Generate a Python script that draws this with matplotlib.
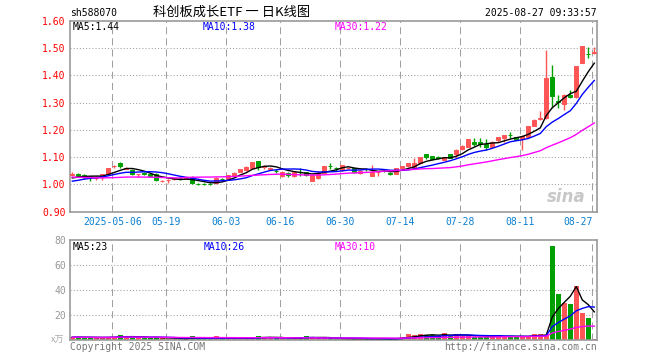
import numpy as np
import pandas as pd
import matplotlib
matplotlib.use("Agg")
import matplotlib.pyplot as plt

# ---------------- data ----------------
code = "sh588070"
title = "科创板成长ETF 一 日K线图"
stamp = "2025-08-27 09:33:57"

tick_idx = [7, 16, 26, 35, 45, 55, 65, 75, 87]
tick_labels = ["2025-05-06", "05-19", "06-03", "06-16", "06-30", "07-14", "07-28", "08-11", "08-27"]

price_ticks = [0.90, 1.00, 1.10, 1.20, 1.30, 1.40, 1.50, 1.60]
vol_ticks = [20, 40, 60, 80]

ma_price_labels = ["MA5:1.44", "MA10:1.38", "MA30:1.22"]
ma_vol_labels = ["MA5:23", "MA10:26", "MA30:10"]

# closes before the first visible day (used only for moving averages)
prior_closes = [1.045, 1.050, 1.040, 1.055, 1.050, 1.045, 1.048, 1.040, 1.030, 1.035,
                1.040, 1.045, 1.040, 1.035, 1.030, 1.038, 1.042, 1.030, 0.970, 0.980,
                0.995, 0.990, 1.000, 1.005, 1.010, 1.015, 1.020, 1.022, 1.025]

opens = [1.036, 1.040, 1.034, 1.030, 1.025, 1.026, 1.038, 1.066, 1.080, 1.058,
         1.053, 1.037, 1.041, 1.039, 1.040, 1.012, 1.016, 1.020, 1.024, 1.021,
         1.026, 1.003, 1.003, 1.003, 1.004, 1.021, 1.021, 1.032, 1.045, 1.053,
         1.061, 1.085, 1.065, 1.056, 1.050, 1.030, 1.043, 1.031, 1.047, 1.045,
         1.014, 1.022, 1.043, 1.067, 1.060, 1.053, 1.061, 1.059, 1.043, 1.056,
         1.032, 1.044, 1.050, 1.042, 1.040, 1.059, 1.066, 1.059, 1.078, 1.110,
         1.103, 1.099, 1.090, 1.110, 1.113, 1.129, 1.139, 1.157, 1.157, 1.149,
         1.139, 1.164, 1.170, 1.183, 1.173, 1.166, 1.173, 1.215, 1.242, 1.243,
         1.395, 1.305, 1.296, 1.329, 1.320, 1.447, 1.480, 1.483]
highs = [1.046, 1.041, 1.040, 1.031, 1.030, 1.038, 1.061, 1.071, 1.084, 1.064,
         1.056, 1.040, 1.046, 1.042, 1.042, 1.016, 1.019, 1.025, 1.026, 1.025,
         1.032, 1.004, 1.004, 1.005, 1.026, 1.024, 1.035, 1.044, 1.057, 1.066,
         1.084, 1.086, 1.070, 1.064, 1.055, 1.048, 1.046, 1.047, 1.061, 1.047,
         1.035, 1.048, 1.068, 1.080, 1.064, 1.073, 1.064, 1.060, 1.052, 1.060,
         1.070, 1.046, 1.055, 1.046, 1.060, 1.069, 1.079, 1.098, 1.101, 1.112,
         1.105, 1.105, 1.102, 1.112, 1.130, 1.144, 1.168, 1.170, 1.172, 1.167,
         1.158, 1.174, 1.183, 1.194, 1.174, 1.183, 1.216, 1.242, 1.270, 1.494,
         1.439, 1.330, 1.331, 1.348, 1.436, 1.510, 1.506, 1.504]
lows = [1.030, 1.027, 1.020, 1.012, 1.018, 1.018, 1.037, 1.062, 1.062, 1.055,
        1.035, 1.028, 1.034, 1.030, 1.014, 1.008, 1.004, 1.018, 1.018, 1.019,
        1.003, 0.998, 0.998, 0.999, 1.002, 1.016, 1.019, 1.031, 1.044, 1.050,
        1.060, 1.053, 1.055, 1.054, 1.042, 1.028, 1.027, 1.028, 1.030, 1.031,
        1.012, 1.020, 1.042, 1.055, 1.050, 1.050, 1.058, 1.042, 1.040, 1.050,
        1.030, 1.030, 1.045, 1.034, 1.038, 1.058, 1.064, 1.057, 1.076, 1.094,
        1.090, 1.092, 1.088, 1.096, 1.098, 1.127, 1.137, 1.140, 1.138, 1.127,
        1.137, 1.157, 1.157, 1.170, 1.163, 1.127, 1.171, 1.213, 1.237, 1.241,
        1.280, 1.280, 1.274, 1.318, 1.318, 1.445, 1.463, 1.478]
closes = [1.039, 1.028, 1.032, 1.028, 1.027, 1.037, 1.060, 1.068, 1.068, 1.060,
          1.037, 1.039, 1.040, 1.032, 1.016, 1.013, 1.018, 1.022, 1.022, 1.023,
          1.004, 1.001, 1.001, 1.002, 1.024, 1.019, 1.033, 1.042, 1.056, 1.065,
          1.083, 1.063, 1.066, 1.062, 1.049, 1.046, 1.034, 1.045, 1.046, 1.034,
          1.034, 1.043, 1.067, 1.066, 1.059, 1.071, 1.062, 1.044, 1.051, 1.055,
          1.046, 1.045, 1.049, 1.040, 1.059, 1.068, 1.078, 1.078, 1.100, 1.100,
          1.093, 1.098, 1.100, 1.098, 1.128, 1.142, 1.167, 1.149, 1.149, 1.139,
          1.157, 1.173, 1.182, 1.181, 1.165, 1.178, 1.215, 1.237, 1.244, 1.391,
          1.323, 1.304, 1.329, 1.320, 1.433, 1.509, 1.479, 1.485]
volumes = [2.4, 2.6, 2.2, 2.3, 2.0, 2.2, 2.6, 2.8, 4.3, 2.4,
           2.6, 2.1, 2.2, 2.0, 2.6, 1.5, 1.3, 1.4, 1.3, 1.2,
           3.5, 1.4, 1.3, 1.2, 3.4, 1.3, 1.5, 1.6, 1.6, 1.8,
           2.0, 3.5, 2.4, 2.2, 1.5, 1.6, 1.4, 1.5, 2.2, 3.5,
           2.5, 1.6, 1.6, 1.5, 1.3, 1.4, 1.3, 1.3, 1.4, 1.3,
           1.5, 1.3, 1.3, 1.2, 1.4, 2.4, 5.0, 4.0, 5.0, 4.0,
           4.0, 3.5, 5.6, 3.5, 5.0, 3.5, 3.5, 3.0, 3.0, 3.0,
           3.0, 4.0, 3.0, 3.0, 3.0, 3.0, 3.5, 5.0, 5.0, 4.5,
           75.5, 37.0, 30.0, 29.0, 43.5, 22.0, 18.0, 1.2]

# ---------------- styles ----------------
RED = "#ff5555"
GREEN = "#00a000"
GRID = "#a0a0a0"
SPINE = "#999999"
MONO = "DejaVu Sans Mono"
DATE_C = "#0a7fd0"

n = len(closes)
x = np.arange(n)
O, H, L, C, V = map(np.array, (opens, highs, lows, closes, volumes))
up = C >= O
cols = np.where(up, RED, GREEN)

full = pd.Series(prior_closes + closes)
npre = len(prior_closes)
ma_p = {k: full.rolling(k).mean().values[npre:] for k in (5, 10, 30)}
vs = pd.Series(volumes)
ma_v = {k: vs.rolling(k, min_periods=1).mean().values for k in (5, 10, 30)}
ma_colors = {5: "black", 10: "#0000ff", 30: "#ff00ff"}

W, Hh = 660, 360
fig = plt.figure(figsize=(6.6, 3.6), dpi=100)
fig.patch.set_facecolor("white")

def frac(l, t, r, b):
    return [l / W, 1 - b / Hh, (r - l) / W, (b - t) / Hh]

ax = fig.add_axes(frac(70, 21, 597, 211.7))
axv = fig.add_axes(frac(70, 240.3, 597, 340.3))

xlim = (-0.383, 87.45)
for a in (ax, axv):
    a.set_xlim(*xlim)
    for s in a.spines.values():
        s.set_color(SPINE)
        s.set_linewidth(1.2)
    a.set_xticks([])
    for ti in tick_idx:
        a.axvline(ti - 0.333, color=GRID, lw=0.75, linestyle=(0, (6.7, 4)), zorder=1)

# ---- price panel ----
ax.set_ylim(0.90, 1.60)
for p in price_ticks[1:-1]:
    ax.axhline(p, color=GRID, lw=0.75, linestyle=(0, (1, 2)), zorder=1)
ax.set_yticks(price_ticks)
ax.set_yticklabels([f"{p:.2f}" for p in price_ticks], family=MONO, fontsize=7, color="red")
ax.tick_params(axis="y", length=0, pad=3)

ax.vlines(x, L, H, colors=cols, lw=1.0, zorder=2)
body_b = np.minimum(O, C)
body_h = np.maximum(np.abs(C - O), 0.0005)
ax.bar(x, body_h, bottom=body_b, width=0.68, color=cols, edgecolor=cols, linewidth=0.7, zorder=3)

for k in (5, 10, 30):
    ax.plot(x, ma_p[k], color=ma_colors[k], lw=1.0, zorder=4)

for lbl, xp, k in zip(ma_price_labels, (73, 203, 335), (5, 10, 30)):
    fig.text(xp / W, 1 - 27 / Hh, lbl, family=MONO, fontsize=7, color=ma_colors[k], va="center", ha="left")

for ti, tl in zip(tick_idx, tick_labels):
    xp = ti - 0.333
    ha = "center"
    if ti == tick_idx[-1]:
        ha = "right"
        xp = xp + 0.05
    ax.text(xp, -0.055, tl, transform=ax.get_xaxis_transform(), ha=ha, va="center",
            family=MONO, fontsize=7, color=DATE_C)

# watermark
ax.text(85.5, 0.955, "sina", ha="right", va="center", fontsize=12, fontstyle="italic",
        fontweight="bold", color="#c8c8c8", zorder=1)

# ---- volume panel ----
axv.set_ylim(0, 80)
for v in vol_ticks[:-1]:
    axv.axhline(v, color=GRID, lw=0.75, linestyle=(0, (1, 2)), zorder=1)
axv.set_yticks(vol_ticks)
axv.set_yticklabels([str(v) for v in vol_ticks], family=MONO, fontsize=7, color="#999999")
axv.tick_params(axis="y", length=0, pad=3)
axv.bar(x, V, width=0.78, color=cols, zorder=2)
for k in (5, 10, 30):
    axv.plot(x, ma_v[k], color=ma_colors[k], lw=1.0, zorder=3)

for lbl, xp, k in zip(ma_vol_labels, (73, 204, 335), (5, 10, 30)):
    fig.text(xp / W, 1 - 246.5 / Hh, lbl, family=MONO, fontsize=7, color=ma_colors[k], va="center", ha="left")

fig.text(64 / W, 1 - 340 / Hh, "x万", family=["Noto Sans CJK SC", "DejaVu Sans"], fontsize=6.5,
         color="#aaaaaa", ha="right", va="center")
fig.text(70 / W, 1 - 347 / Hh, "Copyright 2025 SINA.COM", family=MONO, fontsize=7,
         color="#777777", ha="left", va="center")
fig.text(597 / W, 1 - 347 / Hh, "http://finance.sina.com.cn", family=MONO, fontsize=7,
         color="#777777", ha="right", va="center")

# ---- header ----
fig.text(70 / W, 1 - 12.5 / Hh, code, family=MONO, fontsize=7, color="black", ha="left", va="center")
fig.text(232 / W, 1 - 12 / Hh, title, family=["Noto Sans CJK SC", "DejaVu Sans"], fontsize=9.5,
         color="black", ha="center", va="center")
fig.text(597 / W, 1 - 12.5 / Hh, stamp, family=MONO, fontsize=7, color="black", ha="right", va="center")

fig.savefig("out.png", dpi=100)
